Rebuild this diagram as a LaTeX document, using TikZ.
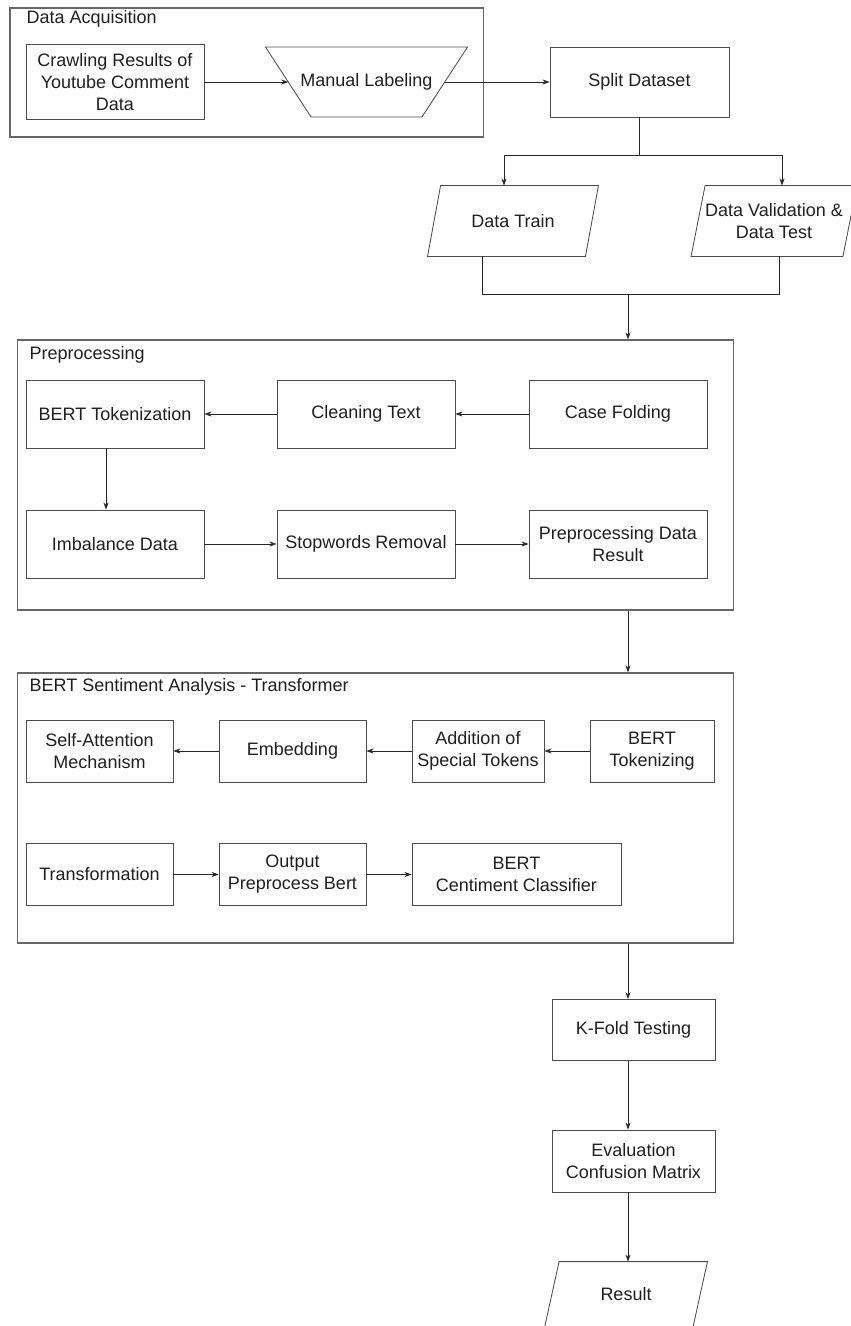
\documentclass[tikz,border=0pt]{standalone}
\usepackage{fontspec}
\setmainfont{Liberation Sans}
\usepackage{tikz}
\usetikzlibrary{arrows.meta}

\newcommand{\flowfont}{\fontsize{12.8}{15.6}\selectfont}

\tikzset{
  stepbox/.style={draw=black!70, line width=0.6pt, align=center, text=black!88,
    font=\flowfont, inner sep=2pt},
  iobox/.style={stepbox, draw=none},
  outline/.style={draw=black!70, line width=0.6pt},
  frame/.style={draw=black!60, line width=0.8pt, inner sep=0pt},
  title/.style={font=\flowfont, text=black!88, anchor=base west, inner sep=0pt},
  line/.style={draw=black!85, line width=0.5pt},
  arrow/.style={line, -{Stealth[length=5pt,width=3.6pt]}},
}

\begin{document}
\begin{tikzpicture}[x=0.025cm, y=-0.025cm]
    \useasboundingbox (0,0) rectangle (850,1326);

    % data acquisition
    \node[frame, minimum width=11.825cm, minimum height=3.225cm] (acq) at (246.5,72.5) {};
    \node[title] (acqtitle) at ([shift={(0.425cm,-0.4cm)}]acq.north west) {Data Acquisition};
    \node[stepbox, minimum width=4.45cm, minimum height=1.875cm] (crawl) at (115,82)
      {Crawling Results of\\Youtube Comment\\Data};
    \node[iobox, minimum width=3.89cm, minimum height=1.725cm] (manual) at (366.5,82) {Manual Labeling};
    \draw[outline] ([xshift=-0.569cm]manual.north west) -- ([xshift=0.569cm]manual.north east)
      -- ([xshift=-0.569cm]manual.south east) -- ([xshift=0.569cm]manual.south west) -- cycle;
    \node[stepbox, minimum width=4.475cm, minimum height=1.75cm] (split) at (639.5,82) {Split Dataset};

    \draw[arrow] (crawl) -- (manual);
    \draw[arrow] (manual) -- (split);

    % split
    \node[iobox, minimum width=4.25cm, minimum height=1.75cm] (train) at (513,221) {Data Train};
    \draw[outline] ([xshift=0.325cm]train.north west) -- (train.north east)
      -- ([xshift=-0.325cm]train.south east) -- (train.south west) -- cycle;
    \node[iobox, minimum width=4.125cm, minimum height=1.75cm] (valid) at (774,221)
      {Data Validation \&\\Data Test};
    \draw[outline] ([xshift=0.35cm]valid.north west) -- (valid.north east)
      -- ([xshift=-0.35cm]valid.south east) -- (valid.south west) -- cycle;

    \draw[arrow] (split.south) -- ++(0,38) -| ([xshift=-0.225cm]train.north);
    \draw[arrow] (split.south) -- ++(0,38) -| ([xshift=0.2cm]valid.north);
    \draw[line] ([xshift=-0.775cm]train.south) -- ++(0,38) -| ([xshift=0.125cm]valid.south);
    \coordinate (spine) at (628,294);

    % preprocessing
    \node[frame, minimum width=17.875cm, minimum height=6.75cm] (prep) at (375.5,475) {};
    \node[title] (preptitle) at ([shift={(0.3cm,-0.5cm)}]prep.north west) {Preprocessing};
    \node[stepbox, minimum width=4.45cm, minimum height=1.7cm] (tokenize) at (115,414) {BERT Tokenization};
    \node[stepbox, minimum width=4.45cm, minimum height=1.7cm] (cleaning) at (366,414) {Cleaning Text};
    \node[stepbox, minimum width=4.45cm, minimum height=1.7cm] (casefold) at (618,414) {Case Folding};
    \node[stepbox, minimum width=4.45cm, minimum height=1.7cm] (imbalance) at (115,544) {Imbalance Data};
    \node[stepbox, minimum width=4.45cm, minimum height=1.7cm] (stopwords) at (366,544) {Stopwords Removal};
    \node[stepbox, minimum width=4.45cm, minimum height=1.7cm] (prepresult) at (618,544)
      {Preprocessing Data\\Result};

    \draw[arrow] (spine) -- (spine |- prep.north);
    \draw[arrow] (casefold) -- (cleaning);
    \draw[arrow] (cleaning) -- (tokenize);
    \draw[arrow] ([xshift=-0.225cm]tokenize.south) -- ([xshift=-0.225cm]imbalance.north);
    \draw[arrow] (imbalance) -- (stopwords);
    \draw[arrow] (stopwords) -- (prepresult);

    % bert sentiment analysis
    \node[frame, minimum width=17.875cm, minimum height=6.75cm] (bert) at (375.5,808) {};
    \node[title] (berttitle) at ([shift={(0.3cm,-0.475cm)}]bert.north west)
      {BERT Sentiment Analysis - Transformer};
    \node[stepbox, minimum width=3.675cm, minimum height=1.55cm] (selfatt) at (99.5,751)
      {Self-Attention\\Mechanism};
    \node[stepbox, minimum width=3.675cm, minimum height=1.55cm] (embed) at (292.5,751) {Embedding};
    \node[stepbox, minimum width=3.3cm, minimum height=1.55cm] (special) at (478,751)
      {Addition of\\Special Tokens};
    \node[stepbox, minimum width=3.1cm, minimum height=1.55cm] (berttok) at (652,751) {BERT\\Tokenizing};
    \node[stepbox, minimum width=3.675cm, minimum height=1.55cm] (transform) at (99.5,874.5) {Transformation};
    \node[stepbox, minimum width=3.675cm, minimum height=1.55cm] (outbert) at (292.5,874.5)
      {Output\\Preprocess Bert};
    \node[stepbox, minimum width=5.225cm, minimum height=1.55cm] (classifier) at (516.5,874.5)
      {BERT\\Centiment Classifier};

    \draw[arrow] (prep.south -| spine) -- (bert.north -| spine);
    \draw[arrow] (berttok) -- (special);
    \draw[arrow] (special) -- (embed);
    \draw[arrow] (embed) -- (selfatt);
    \draw[arrow] (transform) -- (outbert);
    \draw[arrow] (outbert) -- (classifier);

    % testing
    \node[stepbox, minimum width=4.075cm, minimum height=1.525cm] (kfold) at (633.5,1030) {K-Fold Testing};
    \node[stepbox, minimum width=4.075cm, minimum height=1.55cm] (evaluate) at (633.5,1161)
      {Evaluation\\Confusion Matrix};
    \node[iobox, minimum width=4.05cm, minimum height=1.625cm] (result) at (626,1294.5) {Result};
    \draw[outline] ([xshift=0.3625cm]result.north west) -- (result.north east)
      -- ([xshift=-0.3625cm]result.south east) -- (result.south west) -- cycle;

    \draw[arrow] (bert.south -| spine) -- (kfold.north -| spine);
    \draw[arrow] (kfold.south -| spine) -- (evaluate.north -| spine);
    \draw[arrow] (evaluate.south -| spine) -- (result.north -| spine);
\end{tikzpicture}
\end{document}
